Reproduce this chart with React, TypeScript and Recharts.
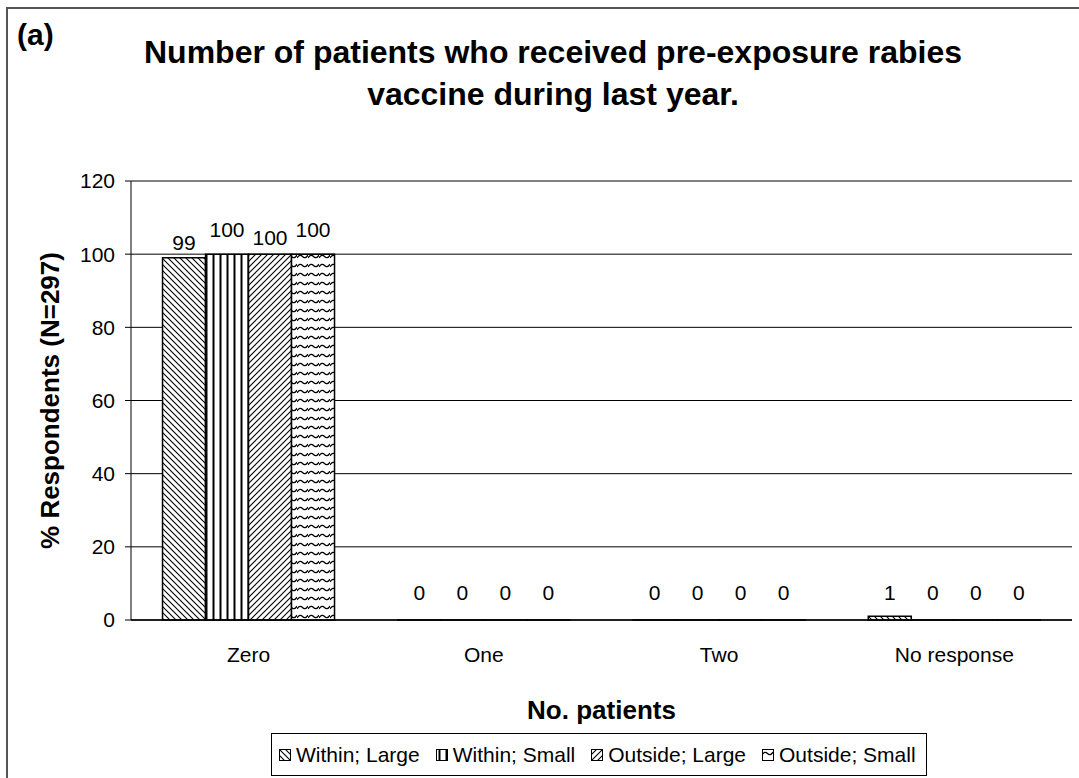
import React from "react";
import {
  BarChart,
  Bar,
  XAxis,
  YAxis,
  CartesianGrid,
  Legend,
  LabelList,
  ReferenceLine,
} from "recharts";

const categories = ["Zero", "One", "Two", "No response"];
const withinLarge = [99, 0, 0, 1];
const withinSmall = [100, 0, 0, 0];
const outsideLarge = [100, 0, 0, 0];
const outsideSmall = [100, 0, 0, 0];
const yTicks = [0, 20, 40, 60, 80, 100, 120];

// labelLift: gap between bar top and label baseline (alternating to avoid overlap)
const series = [
  { key: "wl", name: "Within; Large", pattern: "pat-wl", labelLift: 8 },
  { key: "ws", name: "Within; Small", pattern: "pat-ws", labelLift: 17 },
  { key: "ol", name: "Outside; Large", pattern: "pat-ol", labelLift: 9 },
  { key: "os", name: "Outside; Small", pattern: "pat-os", labelLift: 17 },
];

const data = categories.map((name, i) => ({
  name,
  wl: withinLarge[i],
  ws: withinSmall[i],
  ol: outsideLarge[i],
  os: outsideSmall[i],
}));

// boundaries between categories, used for the small separator ticks
const edgeTicks = [...categories.map((_, i) => i), categories.length];

const FONT = "'Liberation Sans', Arial, Helvetica, sans-serif";

function Patterns() {
  return (
    <defs>
      <pattern id="pat-wl" patternUnits="userSpaceOnUse" width="6" height="6">
        <rect width="6" height="6" fill="#fff" />
        <path d="M0,0 L6,6 M-1,5 L1,7 M5,-1 L7,1" stroke="#000" strokeWidth="1.1" />
      </pattern>
      <pattern id="pat-ws" patternUnits="userSpaceOnUse" width="7" height="7">
        <rect width="7" height="7" fill="#fff" />
        <path d="M3.5,0 L3.5,7" stroke="#000" strokeWidth="2" />
      </pattern>
      <pattern id="pat-ol" patternUnits="userSpaceOnUse" width="6" height="6">
        <rect width="6" height="6" fill="#fff" />
        <path d="M0,6 L6,0 M-1,1 L1,-1 M5,7 L7,5" stroke="#000" strokeWidth="1.1" />
      </pattern>
      <pattern id="pat-os" patternUnits="userSpaceOnUse" width="11" height="9">
        <rect width="11" height="9" fill="#fff" />
        <path
          d="M0,6 Q2.75,1.5 5.5,4.5 T11,3"
          fill="none"
          stroke="#000"
          strokeWidth="1.3"
        />
      </pattern>
    </defs>
  );
}

// value label above each bar, kept clear of the category axis
function makeBarLabel(lift: number) {
  return (props: any) => {
    const { x, y, width, height, value } = props;
    const base = Number(y) + Number(height);
    const ty = Math.min(Number(y) - lift, base - 20);
    return (
      <text
        x={Number(x) + Number(width) / 2}
        y={ty}
        textAnchor="middle"
        fill="#000"
        fontSize={21}
        fontFamily={FONT}
      >
        {value}
      </text>
    );
  };
}

// zero bars get a hairline height so their labels are still laid out
const zeroHairline = (value: any) => (Number(value) === 0 ? 0.01 : 0);

function LegendBox() {
  return (
    <div
      style={{
        border: "1px solid #000",
        height: 43,
        boxSizing: "border-box",
        display: "flex",
        alignItems: "center",
        paddingLeft: 7,
        fontFamily: FONT,
        fontSize: 21,
        color: "#000",
        background: "#fff",
        whiteSpace: "nowrap",
      }}
    >
      {series.map((s) => (
        <span key={s.key} style={{ display: "flex", alignItems: "center", marginRight: 16 }}>
          <svg width={12} height={12} style={{ marginRight: 5 }}>
            <rect x={0.5} y={0.5} width={11} height={11} fill={`url(#${s.pattern})`} stroke="#000" />
          </svg>
          {s.name}
        </span>
      ))}
    </div>
  );
}

export default function App() {
  return (
    <div
      style={{
        position: "absolute",
        left: 0,
        top: 0,
        width: 1079,
        height: 778,
        background: "#fff",
        fontFamily: FONT,
        overflow: "hidden",
      }}
    >
      <div
        style={{
          position: "absolute",
          left: 6,
          top: 7,
          right: -10,
          bottom: -10,
          borderTop: "2px solid #555",
          borderLeft: "2px solid #555",
        }}
      />
      <div
        style={{
          position: "absolute",
          left: 17,
          top: 18,
          fontSize: 30,
          fontWeight: "bold",
          lineHeight: "normal",
        }}
      >
        (a)
      </div>
      <div
        style={{
          position: "absolute",
          left: 0,
          width: 1106,
          top: 31,
          textAlign: "center",
          fontSize: 32,
          fontWeight: "bold",
          lineHeight: "42px",
        }}
      >
        Number of patients who received pre-exposure rabies
        <br />
        vaccine during last year.
      </div>
      <div style={{ position: "absolute", left: 0, top: 0 }}>
        <BarChart
          width={1079}
          height={778}
          data={data}
          margin={{ top: 181, right: 7, left: 0, bottom: 54 }}
          barCategoryGap="13.4%"
          barGap={0}
        >
          <Patterns />
          <CartesianGrid vertical={false} stroke="#000" strokeWidth={1} />
          <XAxis
            xAxisId="edge"
            type="number"
            domain={[0, categories.length]}
            ticks={edgeTicks}
            height={0}
            axisLine={false}
            tick={false}
            tickSize={6}
            tickLine={{ stroke: "#000" }}
          />
          <XAxis
            dataKey="name"
            height={104}
            tickLine={false}
            tickSize={0}
            tickMargin={27}
            axisLine={{ stroke: "#000", strokeWidth: 1.5 }}
            tick={{ fill: "#000", fontSize: 21, fontFamily: FONT }}
            label={{
              value: "No. patients",
              position: "insideBottom",
              offset: 5,
              style: { fill: "#000", fontSize: 26, fontWeight: "bold", fontFamily: FONT },
            }}
          />
          <YAxis
            width={131}
            domain={[0, 120]}
            ticks={yTicks}
            tickSize={6}
            tickMargin={10}
            axisLine={{ stroke: "#000" }}
            tickLine={{ stroke: "#000" }}
            tick={{ fill: "#000", fontSize: 21, fontFamily: FONT }}
            label={{
              value: "% Respondents (N=297)",
              angle: -90,
              position: "insideLeft",
              offset: 50,
              style: {
                textAnchor: "middle",
                fill: "#000",
                fontSize: 26,
                fontWeight: "bold",
                fontFamily: FONT,
              },
            }}
          />
          <ReferenceLine y={120} stroke="#808080" strokeWidth={2} />
          <ReferenceLine xAxisId="edge" x={categories.length} stroke="#808080" strokeWidth={2} />
          {series.map((s) => (
            <Bar
              key={s.key}
              dataKey={s.key}
              name={s.name}
              fill={`url(#${s.pattern})`}
              stroke="#000"
              strokeWidth={1.5}
              minPointSize={zeroHairline}
              isAnimationActive={false}
            >
              <LabelList dataKey={s.key} content={makeBarLabel(s.labelLift)} />
            </Bar>
          ))}
          <Legend
            layout="horizontal"
            verticalAlign="middle"
            align="center"
            wrapperStyle={{ left: 271, top: 733, width: 656 }}
            content={() => <LegendBox />}
          />
        </BarChart>
      </div>
    </div>
  );
}
